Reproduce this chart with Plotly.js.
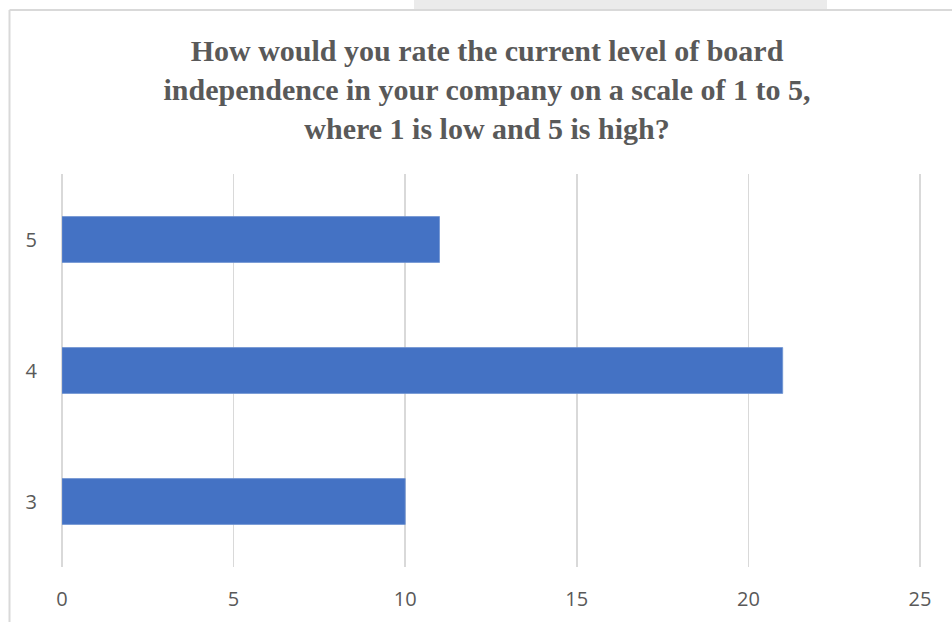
<!DOCTYPE html>
<html>
<head>
<meta charset="utf-8">
<script src="https://cdn.plot.ly/plotly-3.0.1.min.js"></script>
<style>
html,body{margin:0;padding:0;background:#fff;}
#chart{width:952px;height:622px;}
</style>
</head>
<body>
<div id="chart"></div>
<script>
const categories = ["3", "4", "5"];
const counts = [10, 21, 11];
const xTickValues = [0, 5, 10, 15, 20, 25];
const titleText = "How would you rate the current level of board<br>independence in your company on a scale of 1 to 5,<br>where 1 is low and 5 is high?";

const L = 62, R = 31, T = 174, B = 55;
const W = 952, H = 622;
const pw = W - L - R, ph = H - T - B;
const px = v => (v - L) / pw;
const py = v => (H - B - v) / ph;

const trace = {
  type: "bar",
  orientation: "h",
  y: categories,
  x: counts,
  width: 0.35,
  marker: {color: "#4472C4", line: {color: "#6F93D2", width: 0.8}},
  hoverinfo: "x+y"
};

const layout = {
  width: W, height: H,
  margin: {l: L, r: R, t: T, b: B, pad: 0},
  paper_bgcolor: "#ffffff",
  plot_bgcolor: "#ffffff",
  showlegend: false,
  title: {
    text: titleText,
    font: {family: "Liberation Serif, Times New Roman, serif", size: 30, color: "#595959", weight: 700},
    x: 487 / W, xanchor: "center",
    yref: "container",
    y: 1 - 61 / H, yanchor: "top"
  },
  xaxis: {
    range: [0, 25.03],
    tickvals: xTickValues,
    ticktext: xTickValues.map(String),
    showgrid: true,
    gridcolor: "#d9d9d9",
    gridwidth: 1.5,
    zeroline: true,
    zerolinecolor: "#d9d9d9",
    zerolinewidth: 1.5,
    showline: false,
    ticks: "",
    ticklabelstandoff: 18,
    tickfont: {family: "Open Sans, Liberation Sans, sans-serif", size: 20, color: "#595959"},
    fixedrange: true
  },
  yaxis: {
    type: "category",
    categoryorder: "array",
    categoryarray: categories,
    range: [-0.5, 2.5],
    showgrid: false,
    zeroline: false,
    showline: false,
    ticks: "",
    ticklabelstandoff: 24,
    tickfont: {family: "Open Sans, Liberation Sans, sans-serif", size: 20, color: "#595959"},
    fixedrange: true
  },
  shapes: [
    {type: "line", xref: "paper", yref: "paper", x0: px(9.5), x1: px(9.5), y0: py(10), y1: py(640), line: {color: "#d9d9d9", width: 2}},
    {type: "line", xref: "paper", yref: "paper", x0: px(9.5), x1: px(970), y0: py(10), y1: py(10), line: {color: "#d9d9d9", width: 2}},
    {type: "rect", xref: "paper", yref: "paper", x0: px(414), x1: px(827), y0: py(9), y1: py(-2), fillcolor: "#ebebeb", line: {width: 0}, layer: "below"}
  ]
};

Plotly.newPlot("chart", [trace], layout, {displayModeBar: false, staticPlot: true});
</script>
</body>
</html>
